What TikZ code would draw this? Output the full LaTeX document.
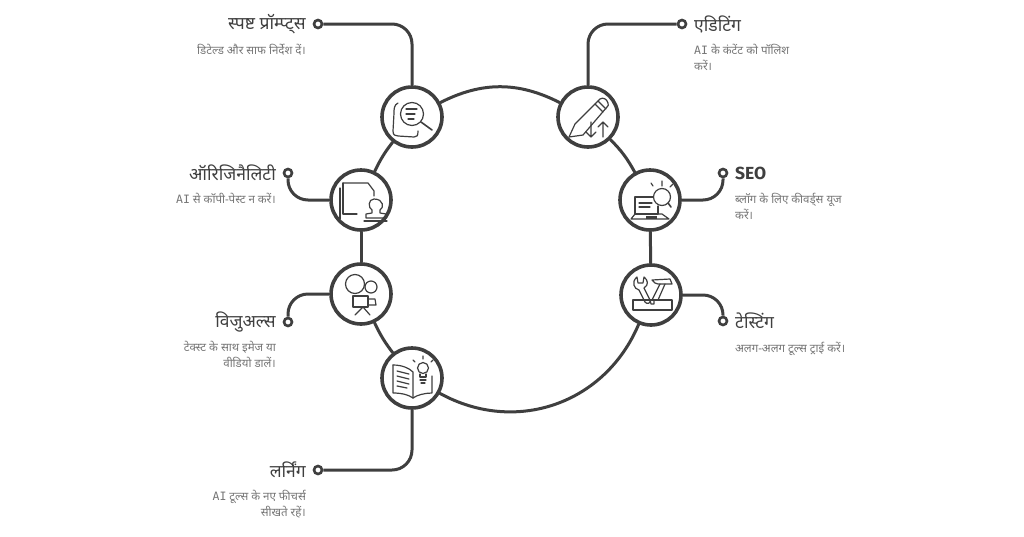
\documentclass[tikz,border=0pt]{standalone}
\usepackage{fontspec}
\setmainfont[Script=Devanagari]{Noto Sans}
\newfontfamily\latinhand{DejaVu Sans Mono}
\newfontfamily\latinbold{Fira Sans}
\usetikzlibrary{calc}
\definecolor{ink}{HTML}{3F3F3F}
\definecolor{bodyink}{HTML}{767676}
\tikzset{
 hub/.style={circle,draw=ink,fill=white,line width=3.6pt,minimum size=60pt,inner sep=0pt},
 endring/.style={circle,draw=ink,fill=white,line width=2.6pt,minimum size=8pt,inner sep=0pt},
 ringlink/.style={draw=ink,line width=3pt,line cap=round},
 lead/.style={draw=ink,line width=3pt,rounded corners=20pt},
 ttlr/.style={anchor=east,text=ink,font=\fontsize{17.5}{20}\selectfont\bfseries,inner sep=0pt},
 ttll/.style={anchor=west,text=ink,font=\fontsize{17.5}{20}\selectfont\bfseries,inner sep=0pt},
 bodyr/.style={anchor=north east,align=right,text=bodyink,font=\fontsize{11.5}{16}\selectfont,inner sep=0pt},
 bodyl/.style={anchor=north west,align=left,text=bodyink,font=\fontsize{11.5}{16}\selectfont,inner sep=0pt},
 icon/.style={draw=ink,line width=1.2pt,line cap=round,line join=round},
}
\newcommand{\AIx}{{\latinhand AI}}
\begin{document}
\begin{tikzpicture}[x=1pt,y=-1pt]
\useasboundingbox (0,0) rectangle (1024,536);
\fill[white] (0,0) rectangle (1024,536);

% hubs
\node[hub] (prompt) at (412,117) {};
\node[hub] (edit) at (588,117) {};
\node[hub] (orig) at (361,200) {};
\node[hub] (seo) at (650,200) {};
\node[hub] (vis) at (361,294) {};
\node[hub] (test) at (651,295) {};
\node[hub] (learn) at (412,378) {};

% ring
\draw[ringlink] (prompt) to[bend left=27] (edit);
\draw[ringlink] (edit) to[bend left=8] (seo);
\draw[ringlink] (seo) -- (test);
\draw[ringlink] (test) to[bend left=48,looseness=1.05] (learn);
\draw[ringlink] (learn) to[bend left=6] (vis);
\draw[ringlink] (vis) -- (orig);
\draw[ringlink] (orig) to[bend left=6] (prompt);

% end rings
\node[endring] (dprompt) at (318,24) {};
\node[endring] (dedit) at (682,24) {};
\node[endring] (dorig) at (288,173) {};
\node[endring] (dseo) at (723,173) {};
\node[endring] (dvis) at (288,322) {};
\node[endring] (dtest) at (723,321) {};
\node[endring] (dlearn) at (318,470) {};

% leads
\draw[lead] (prompt) |- (dprompt);
\draw[lead] (edit) |- (dedit);
\draw[lead] (orig) -| (dorig);
\draw[lead] (seo) -| (dseo);
\draw[lead] (vis) -| (dvis);
\draw[lead] (test) -| (dtest);
\draw[lead] (learn) |- (dlearn);

% texts
\node[ttlr] (t1) at (306,24) {स्पष्ट प्रॉम्प्ट्स};
\node[bodyr] (b1) at (306,44) {डिटेल्ड और साफ निर्देश दें।};
\node[ttlr] (t2) at (276,173) {ऑरिजिनैलिटी};
\node[bodyr] (b2) at (276,193) {\AIx{} से कॉपी-पेस्ट न करें।};
\node[ttlr] (t3) at (276,322) {विजुअल्स};
\node[bodyr] (b3) at (276,341) {टेक्स्ट के साथ इमेज या\\वीडियो डालें।};
\node[ttlr] (t4) at (306,470) {लर्निंग};
\node[bodyr] (b4) at (306,490) {\AIx{} टूल्स के नए फीचर्स\\सीखते रहें।};
\node[ttll] (t5) at (694,24) {एडिटिंग};
\node[bodyl] (b5) at (694,44) {\AIx{} के कंटेंट को पॉलिश\\करें।};
\node[ttll] (t6) at (735,173) {{\latinbold SEO}};
\node[bodyl] (b6) at (735,193) {ब्लॉग के लिए कीवर्ड्स यूज\\करें।};
\node[ttll] (t7) at (735,321) {टेस्टिंग};
\node[bodyl] (b7) at (735,342) {अलग-अलग टूल्स ट्राई करें।};

% icon: prompt
\begin{scope}[shift={(prompt)},icon]
\draw[icon] (-14,-14) .. controls (-18,-12) and (-18,-8) .. (-18,-4) -- (-19,14) .. controls (-19,18) and (-17,19) .. (-14,19) -- (2,20) .. controls (5,20) and (6,19) .. (6,14);
\draw[icon] (0,-3) circle (11.5);
\draw[icon,line width=1.6pt] (9,5) -- (20,13);
\draw[icon] (-6,-8) -- (5,-8) (-6,-3) -- (3,-3) (-4,2) -- (2,2);
\end{scope}

% icon: edit
\begin{scope}[shift={(edit)}]
\draw[icon] (-13,7) -- (12,-18) .. controls (15,-20) and (19,-18) .. (20,-14) .. controls (21,-12) and (20,-11) .. (19,-10) -- (-5,18) -- (-19,20) -- cycle;
\draw[icon] (7,-13) -- (15,-5) (10,-16) -- (18,-8);
\draw[icon] (3,5) -- (3,20) (-2,15) -- (3,20) -- (8,15);
\draw[icon] (15,20) -- (15,5) (10,10) -- (15,5) -- (20,10);
\end{scope}

% icon: seo
\begin{scope}[shift={(seo)}]
\draw[icon] (12,-3) circle (8.5);
\draw[icon,line width=1.6pt] (18,3) -- (21,7);
\draw[icon] (3,-14) -- (1,-17) (12,-14) -- (12,-19) (20,-13) -- (23,-16);
\draw[icon] (3,-3) -- (-15,-3) -- (-15,14) -- (8,14) -- (8,6);
\draw[icon] (-11,3) -- (2,3) (-11,7) -- (0,7);
\draw[icon] (-15,14) -- (-19,19) -- (19,19) -- (12,14) -- (8,14);
\draw[ink,fill=ink] (-4,16) rectangle (6,18);
\end{scope}

% icon: orig
\begin{scope}[shift={(orig)}]
\draw[icon] (-18,-17) -- (7,-17) -- (13,-9) -- (13,-4);
\draw[icon] (-18,-17) -- (-18,14) -- (-4,14);
\draw[icon] (-21,-12) -- (-21,19);
\draw[icon] (13,-1) .. controls (7,-1) and (7,8) .. (11,10) -- (11,13) -- (5,14) -- (5,18) -- (25,18) -- (25,14) -- (19,13) -- (19,10) .. controls (23,8) and (23,-1) .. (13,-1) -- cycle;
\draw[icon] (3,21) -- (26,21);
\end{scope}

% icon: vis
\begin{scope}[shift={(vis)}]
\draw[icon] (-6,-10) circle (9.5);
\draw[icon] (10,-7) circle (6);
\draw[icon] (-8,2) rectangle (7,13);
\draw[icon] (7,5) -- (14,5) -- (15,11) -- (7,11);
\draw[icon] (2,13) -- (-6,21) (2,13) -- (9,21);
\end{scope}

% icon: learn
\begin{scope}[shift={(learn)}]
\draw[icon] (-19,-13) .. controls (-10,-13) and (-3,-10) .. (1,-6) -- (1,20);
\draw[icon] (-19,-13) -- (-19,15) .. controls (-10,15) and (-3,17) .. (1,20) .. controls (5,17) and (13,15) .. (20,15) -- (20,-2);
\draw[icon] (-15,-7) -- (-3,-4) (-15,-2) -- (-3,1) (-15,3) -- (-3,6) (-15,8) -- (-5,10);
\draw[icon] (11,-10) circle (5.5);
\draw[icon] (8,-4) -- (8,-1) -- (14,-1) -- (14,-4);
\draw[icon] (8,2) -- (14,2) (9,5) -- (13,5);
\draw[icon] (3,-16) -- (1,-18) (11,-19) -- (11,-22) (19,-16) -- (21,-18);
\end{scope}

% icon: test
\begin{scope}[shift={(test)}]
\draw[icon] (-18,5) -- (21,5) -- (21,15) -- (-18,15) -- cycle;
\draw[icon] (-14,-18) .. controls (-20,-13) and (-17,-6) .. (-12,-5) -- (-6,7) .. controls (-4,10) and (0,8) .. (-1,5) -- (-7,-7) .. controls (-2,-10) and (-3,-15) .. (-7,-18) -- (-8,-12) -- (-13,-12) -- cycle;
\draw[icon] (1,-15) -- (19,-16) -- (21,-11) -- (7,-11) -- (4,-12) -- cycle;
\draw[icon] (9,-11) -- (1,5) (14,-11) -- (7,5);
\draw[icon] (-1,5) -- (0,9) -- (3,9) -- (3,5);
\end{scope}
\end{tikzpicture}
\end{document}
